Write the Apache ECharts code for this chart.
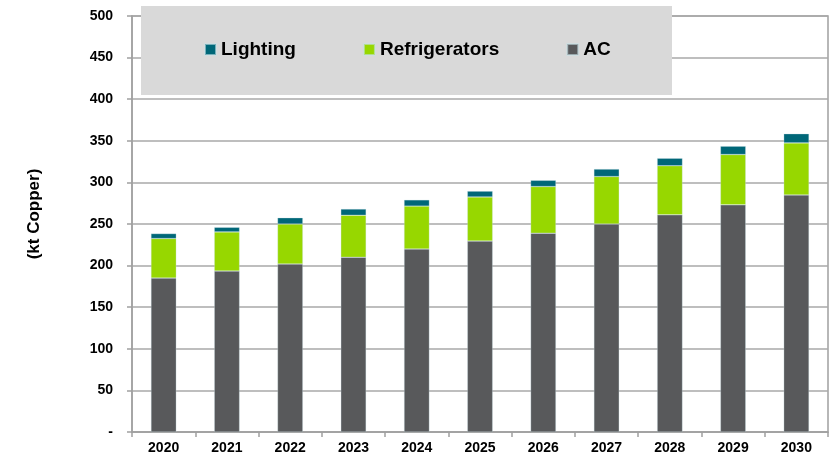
<!DOCTYPE html>
<html>
<head>
<meta charset="utf-8">
<script src="https://cdn.jsdelivr.net/npm/echarts@6/dist/echarts.min.js"></script>
<style>html,body{margin:0;padding:0;background:#fff}#c{width:838px;height:461px}</style>
</head>
<body>
<div id="c"></div>
<script>
const years = ['2020','2021','2022','2023','2024','2025','2026','2027','2028','2029','2030'];
const acValues = [185, 193.5, 202, 210, 220, 229.5, 239, 250, 261, 273, 285];
const refrigeratorValues = [47.5, 47, 48, 50.5, 51.5, 53, 56, 57, 59, 60.5, 62.5];
const lightingValues = [6, 5.5, 7.5, 7.5, 7.5, 7, 7.5, 9, 9, 10, 11];
const seriesNames = ['Lighting', 'Refrigerators', 'AC'];
const yTicks = [0, 50, 100, 150, 200, 250, 300, 350, 400, 450, 500];

const font = "'Liberation Sans', Arial, sans-serif";
const chart = echarts.init(document.getElementById('c'), null, {renderer: 'canvas'});
const barBorder = {borderColor: 'rgba(200,225,230,0.6)', borderWidth: 0.5};
chart.setOption({
  animation: false,
  textStyle: {fontFamily: font},
  grid: {left: 132, right: 10, top: 16, bottom: 29, show: true, borderColor: '#a0a0a0', borderWidth: 1.5, backgroundColor: 'transparent'},
  graphic: [{
    type: 'rect', left: 141, top: 6, shape: {width: 531, height: 89},
    style: {fill: '#d9d9d9'}, z: 5
  }],
  legend: {
    data: seriesNames,
    left: 204, top: 40, padding: 0, z: 10,
    itemWidth: 11, itemHeight: 11, itemGap: 67,
    icon: 'rect',
    textStyle: {fontSize: 19, fontWeight: 'bold', color: '#000', fontFamily: font}
  },
  xAxis: {
    type: 'category', data: years,
    axisLine: {lineStyle: {color: '#a0a0a0', width: 1.5}},
    axisTick: {show: true, length: 5, lineStyle: {color: '#a0a0a0', width: 1.5}},
    axisLabel: {fontSize: 14, fontWeight: 'bold', color: '#000', margin: 9, fontFamily: font}
  },
  yAxis: {
    type: 'value', min: yTicks[0], max: yTicks[yTicks.length - 1], interval: yTicks[1] - yTicks[0],
    name: '(kt Copper)', nameLocation: 'middle', nameRotate: 90, nameGap: 89,
    nameTextStyle: {fontSize: 17, fontWeight: 'bold', color: '#000', fontFamily: font, padding: [0, 0, 0, 20]},
    axisLine: {show: true, lineStyle: {color: '#a0a0a0', width: 1.5}},
    axisTick: {show: true, length: 5, lineStyle: {color: '#a0a0a0', width: 1.5}},
    splitLine: {lineStyle: {color: '#a8a8a8', width: 1.5}},
    axisLabel: {fontSize: 14, fontWeight: 'bold', color: '#000', margin: 19, fontFamily: font,
      formatter: v => v === 0 ? '-' : String(v)}
  },
  series: [
    {name: 'AC', type: 'bar', stack: 't', data: acValues, barWidth: '40%', itemStyle: Object.assign({color: '#58595b'}, barBorder)},
    {name: 'Refrigerators', type: 'bar', stack: 't', data: refrigeratorValues, barWidth: '40%', itemStyle: Object.assign({color: '#97d700'}, barBorder)},
    {name: 'Lighting', type: 'bar', stack: 't', data: lightingValues, barWidth: '40%', itemStyle: Object.assign({color: '#006778'}, barBorder)}
  ]
});
</script>
</body>
</html>
